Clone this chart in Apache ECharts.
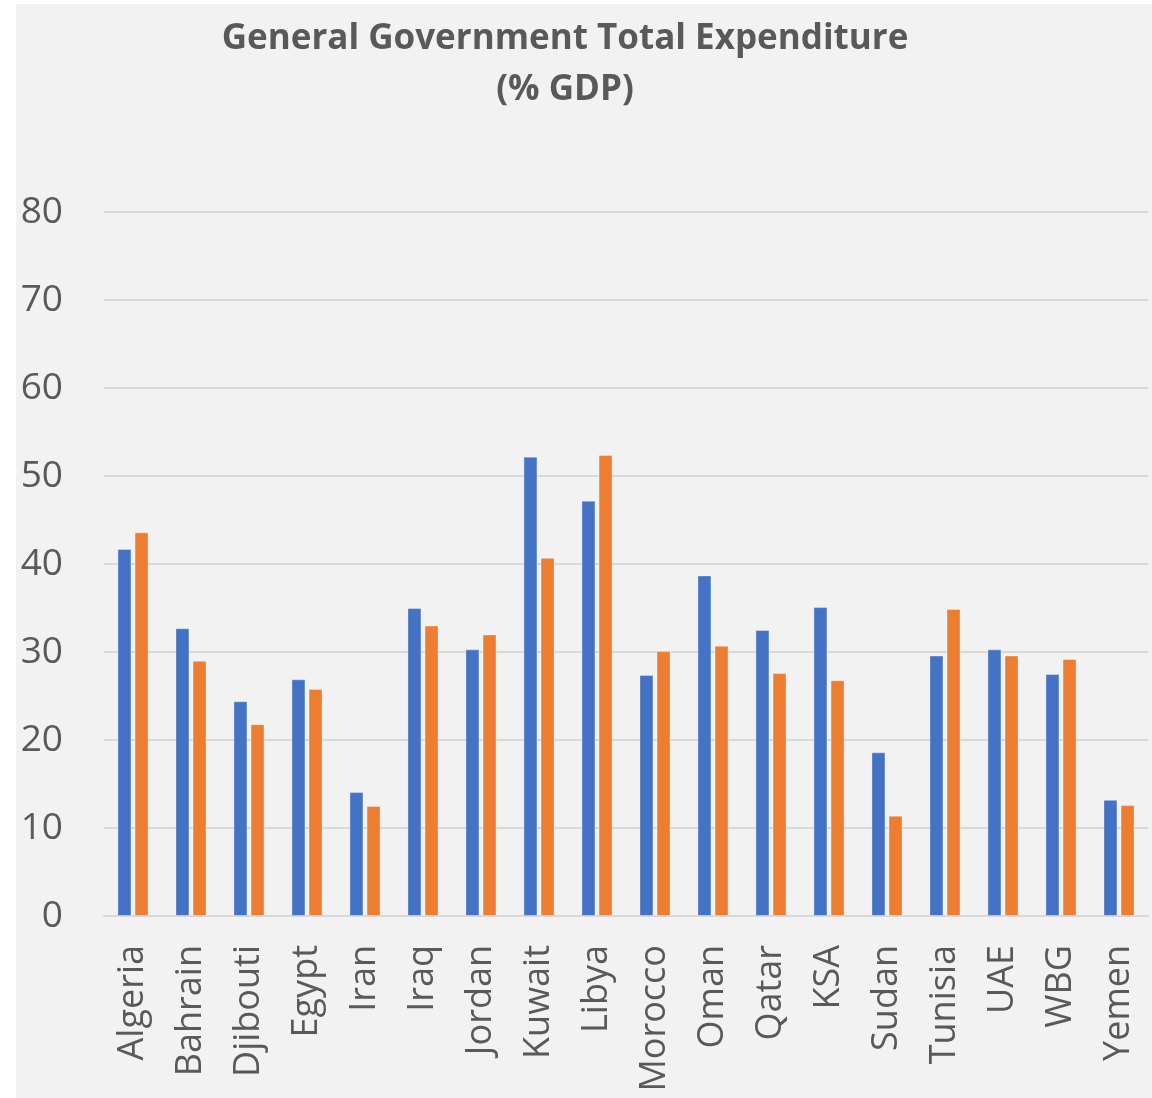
<!DOCTYPE html>
<html>
<head>
<meta charset="utf-8">
<script src="https://cdn.jsdelivr.net/npm/echarts@6/dist/echarts.min.js"></script>
<style>
  html, body { margin: 0; padding: 0; background: #ffffff; }
  #chart { position: absolute; left: 16px; top: 4px; width: 1136px; height: 1094px; background: #F2F2F2; }
</style>
</head>
<body>
<div id="chart"></div>
<script>
const categories = ["Algeria", "Bahrain", "Djibouti", "Egypt", "Iran", "Iraq", "Jordan", "Kuwait", "Libya",
  "Morocco", "Oman", "Qatar", "KSA", "Sudan", "Tunisia", "UAE", "WBG", "Yemen"];
const seriesA = [41.7, 32.7, 24.4, 26.9, 14.1, 35.0, 30.3, 52.2, 47.2, 27.4, 38.7, 32.5, 35.1, 18.6, 29.6, 30.3, 27.5, 13.2];
const seriesB = [43.6, 29.0, 21.8, 25.8, 12.5, 33.0, 32.0, 40.7, 52.4, 30.1, 30.7, 27.6, 26.8, 11.4, 34.9, 29.6, 29.2, 12.6];
const titleLines = ["General Government Total Expenditure", "(% GDP)"];
const yTicks = { min: 0, max: 80, interval: 10 };

const chart = echarts.init(document.getElementById('chart'), null, { renderer: 'canvas' });
const textColor = '#595959';
chart.setOption({
  backgroundColor: '#F2F2F2',
  animation: false,
  title: {
    text: titleLines.join('\n'),
    left: 544,
    top: 5,
    textAlign: 'center',
    textStyle: {
      fontFamily: 'Open Sans',
      fontWeight: 'bold',
      fontSize: 35,
      lineHeight: 51,
      color: textColor
    }
  },
  grid: { left: 88, right: 4, top: 208, bottom: 182, containLabel: false },
  xAxis: {
    type: 'category',
    data: categories,
    axisTick: { show: false },
    axisLine: { lineStyle: { color: '#D9D9D9', width: 2 } },
    axisLabel: {
      rotate: 90,
      margin: 29,
      interval: 0,
      color: textColor,
      fontFamily: 'Open Sans',
      fontSize: 36
    }
  },
  yAxis: {
    type: 'value',
    min: yTicks.min,
    max: yTicks.max,
    interval: yTicks.interval,
    axisLine: { show: false },
    axisTick: { show: false },
    splitLine: { lineStyle: { color: '#D9D9D9', width: 2 } },
    axisLabel: {
      margin: 41,
      color: textColor,
      fontFamily: 'Open Sans',
      fontSize: 37
    }
  },
  series: [
    {
      type: 'bar',
      data: seriesA,
      barWidth: 14,
      barGap: '22%',
      itemStyle: { color: '#4472C4', borderColor: 'rgba(255,255,255,0.35)', borderWidth: 1 }
    },
    {
      type: 'bar',
      data: seriesB,
      barWidth: 14,
      itemStyle: { color: '#ED7D31', borderColor: 'rgba(255,255,255,0.35)', borderWidth: 1 }
    }
  ]
});
</script>
</body>
</html>
